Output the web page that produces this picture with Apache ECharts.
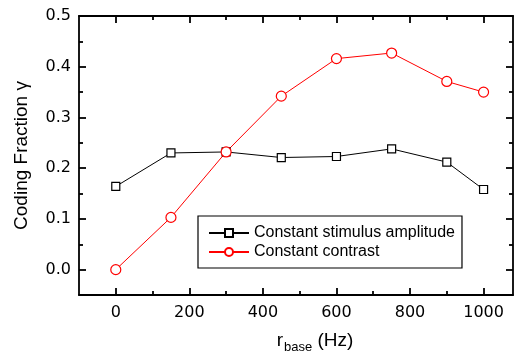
<!DOCTYPE html>
<html>
<head>
<meta charset="utf-8">
<script src="https://cdn.jsdelivr.net/npm/echarts@6/dist/echarts.min.js"></script>
<style>
html,body{margin:0;padding:0;background:#fff;}
#chart{width:515px;height:356px;}
</style>
</head>
<body>
<div id="chart"></div>
<script>
// ---- data ----
const rBase = [0, 150, 300, 450, 600, 750, 900, 1000];
const constantAmplitude = [0.164, 0.230, 0.232, 0.221, 0.223, 0.238, 0.212, 0.158];
const constantContrast = [0.000, 0.103, 0.232, 0.342, 0.416, 0.427, 0.371, 0.350];
const seriesNames = ['Constant stimulus amplitude', 'Constant contrast'];
const xMajorTicks = [0, 200, 400, 600, 800, 1000];
const xMinorTicks = [100, 300, 500, 700, 900];
const yMajorTicks = [0.0, 0.1, 0.2, 0.3, 0.4, 0.5];
const yMinorTicks = [0.05, 0.15, 0.25, 0.35, 0.45];

const chart = echarts.init(document.getElementById('chart'), null, {renderer: 'canvas'});

const X_MIN = -100, X_MAX = 1080, Y_MIN = -0.05, Y_MAX = 0.5;
const AX = {color: '#000', width: 1.8};
const tickFont = {fontFamily: 'DejaVu Sans', fontSize: 16, color: '#000'};

function xAxisDef(pos, ticks, len, showLine, labels) {
  return {
    type: 'value', position: pos, min: X_MIN, max: X_MAX,
    splitLine: {show: false},
    axisLine: {show: showLine, onZero: false, lineStyle: AX},
    axisTick: {show: true, inside: true, length: len, customValues: ticks, lineStyle: AX},
    axisLabel: labels ? Object.assign({show: true, margin: 10, customValues: ticks, formatter: v => String(v)}, tickFont) : {show: false}
  };
}
function yAxisDef(pos, ticks, len, showLine, labels) {
  return {
    type: 'value', position: pos, min: Y_MIN, max: Y_MAX,
    splitLine: {show: false},
    axisLine: {show: showLine, onZero: false, lineStyle: AX},
    axisTick: {show: true, inside: true, length: len, customValues: ticks, lineStyle: AX},
    axisLabel: labels ? Object.assign({show: true, margin: 8, customValues: ticks, formatter: v => v.toFixed(1)}, tickFont) : {show: false}
  };
}

const xAxes = [
  xAxisDef('bottom', xMajorTicks, 7, true, true),
  xAxisDef('bottom', xMinorTicks, 4, false, false),
  xAxisDef('top', xMajorTicks, 7, true, false),
  xAxisDef('top', xMinorTicks, 4, false, false)
];
xAxes[0].name = '{r|r}{s|base}{h| (Hz)}';
xAxes[0].nameLocation = 'middle';
xAxes[0].nameGap = 36;
xAxes[0].nameTextStyle = {
  padding: [0, 0, 0, 38],
  rich: {
    r: {fontFamily: 'Liberation Sans', fontSize: 19, color: '#000', lineHeight: 20, verticalAlign: 'top'},
    s: {fontFamily: 'Liberation Sans', fontSize: 13, color: '#000', lineHeight: 14, padding: [12, 0, 0, 1]},
    h: {fontFamily: 'Liberation Sans', fontSize: 19, color: '#000', lineHeight: 20, verticalAlign: 'top'}
  }
};

const yAxes = [
  yAxisDef('left', yMajorTicks, 7, true, true),
  yAxisDef('left', yMinorTicks, 4, false, false),
  yAxisDef('right', yMajorTicks, 7, true, false),
  yAxisDef('right', yMinorTicks, 4, false, false)
];
yAxes[0].name = 'Coding Fraction \u03B3';
yAxes[0].nameLocation = 'middle';
yAxes[0].nameGap = 48;
yAxes[0].nameTextStyle = {fontFamily: 'Liberation Sans', fontSize: 19, color: '#000'};

chart.setOption({
  animation: false,
  backgroundColor: '#fff',
  grid: {left: 79, right: 2, top: 16, bottom: 61, containLabel: false, outerBoundsMode: 'none'},
  xAxis: xAxes,
  yAxis: yAxes,
  legend: {
    show: true,
    orient: 'vertical',
    left: 198, top: 216,
    padding: [9, 7, 8, 10],
    itemGap: 3,
    itemWidth: 40, itemHeight: 10,
    borderColor: '#000', borderWidth: 1.2,
    align: 'left',
    textStyle: {fontFamily: 'Liberation Sans', fontSize: 16, color: '#000', lineHeight: 16},
    data: seriesNames
  },
  series: [
    {
      name: seriesNames[0], type: 'line', xAxisIndex: 0, yAxisIndex: 0,
      data: rBase.map((x, i) => [x, constantAmplitude[i]]),
      symbol: 'rect', symbolSize: 8,
      lineStyle: {color: '#000', width: 1},
      itemStyle: {color: '#fff', borderColor: '#000', borderWidth: 1.2},
      color: '#000'
    },
    {
      name: seriesNames[1], type: 'line', xAxisIndex: 0, yAxisIndex: 0,
      data: rBase.map((x, i) => [x, constantContrast[i]]),
      symbol: 'circle', symbolSize: 10,
      lineStyle: {color: '#ff0000', width: 1},
      itemStyle: {color: '#fff', borderColor: '#ff0000', borderWidth: 1.2},
      color: '#ff0000'
    }
  ]
});
</script>
</body>
</html>
